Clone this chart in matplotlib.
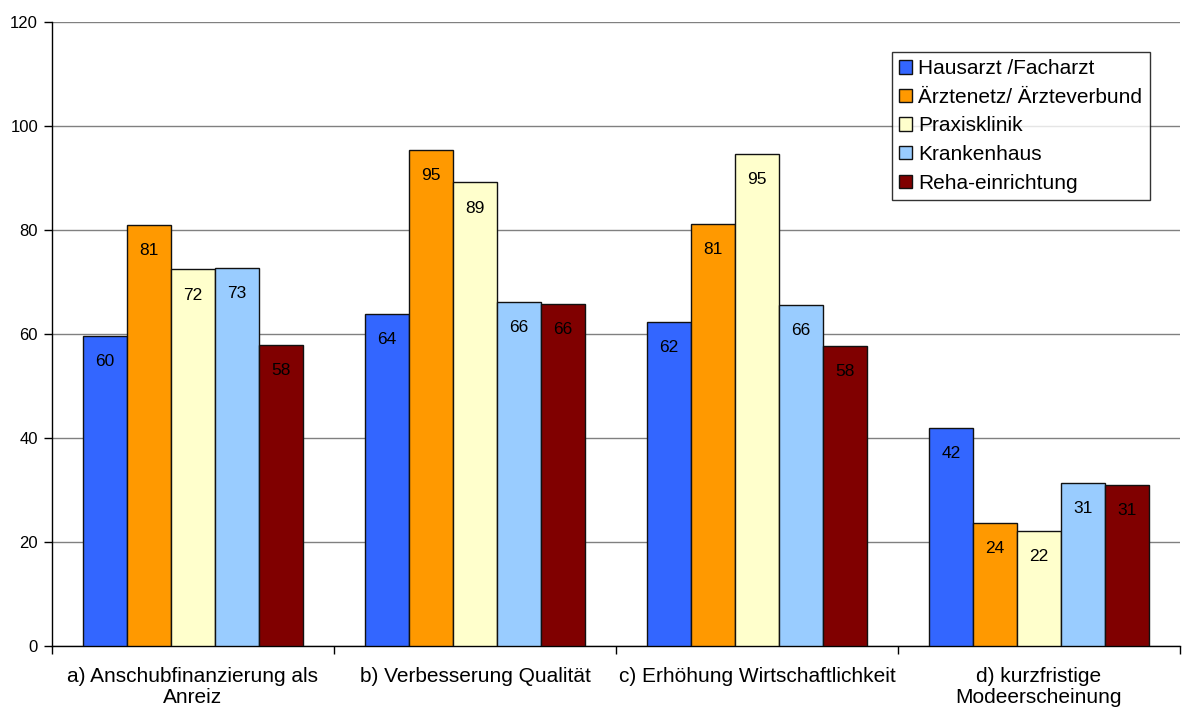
import matplotlib
matplotlib.use("Agg")
import matplotlib.pyplot as plt
import numpy as np

plt.rcParams['font.family'] = ['Liberation Sans', 'DejaVu Sans']

categories = ["a) Anschubfinanzierung als\nAnreiz", "b) Verbesserung Qualität",
              "c) Erhöhung Wirtschaftlichkeit", "d) kurzfristige\nModeerscheinung"]
series_names = ["Hausarzt /Facharzt", "Ärztenetz/ Ärzteverbund", "Praxisklinik",
                "Krankenhaus", "Reha-einrichtung"]
hausarzt = [59.6, 63.9, 62.3, 42.0]
aerztenetz = [81.0, 95.4, 81.2, 23.7]
praxisklinik = [72.4, 89.1, 94.6, 22.1]
krankenhaus = [72.7, 66.2, 65.6, 31.4]
reha = [57.9, 65.7, 57.7, 31.0]
colors = ["#3366FF", "#FF9900", "#FFFFCC", "#99CCFF", "#800000"]
yticks = [0, 20, 40, 60, 80, 100, 120]

series = [hausarzt, aerztenetz, praxisklinik, krankenhaus, reha]

fig = plt.figure(figsize=(11.84, 7.10), dpi=100)
ax = fig.add_axes([0.0439, 0.0901, 0.9527, 0.8793])

x = np.arange(len(categories))
w = 0.1563
for j, (vals, name, c) in enumerate(zip(series, series_names, colors)):
    pos = x + (j - 2) * w
    bars = ax.bar(pos, vals, width=w, color=c, edgecolor="#111111", linewidth=1.0,
                  label=name, zorder=3)
    for b, v in zip(bars, vals):
        ax.annotate("%.0f" % v, (b.get_x() + b.get_width() / 2, v),
                    xytext=(0, -18.5), textcoords="offset points",
                    ha="center", va="center", fontsize=12.5, color="black", zorder=4)

ax.set_xlim(-0.5, 3.5)
ax.set_ylim(0, 120)
ax.set_yticks(yticks)
ax.set_yticklabels([str(t) for t in yticks], fontsize=12)
ax.yaxis.grid(True, color="#808080", linewidth=1.0, zorder=0)
ax.set_axisbelow(True)

ax.set_xticks(x)
ax.set_xticklabels(categories, fontsize=15, linespacing=1.15)
ax.tick_params(axis="x", which="major", length=0, pad=15)
ax.set_xticks([-0.5, 0.5, 1.5, 2.5, 3.5], minor=True)
ax.tick_params(axis="x", which="minor", length=6, width=1, color="black", direction="out")
ax.tick_params(axis="y", length=6, width=1, color="black", direction="out", pad=4)

for s in ["top", "right"]:
    ax.spines[s].set_visible(False)
for s in ["left", "bottom"]:
    ax.spines[s].set_color("black")
    ax.spines[s].set_linewidth(1.0)

leg = fig.legend(loc="upper left", bbox_to_anchor=(0.7534, 0.9268),
                 bbox_transform=fig.transFigure, fontsize=15, frameon=True,
                 fancybox=False, edgecolor="black", handlelength=0.62,
                 handleheight=0.62, handletextpad=0.3, borderpad=0.35,
                 labelspacing=0.46, borderaxespad=0)
leg.get_frame().set_linewidth(1.0)

fig.savefig("out.png", dpi=100)
